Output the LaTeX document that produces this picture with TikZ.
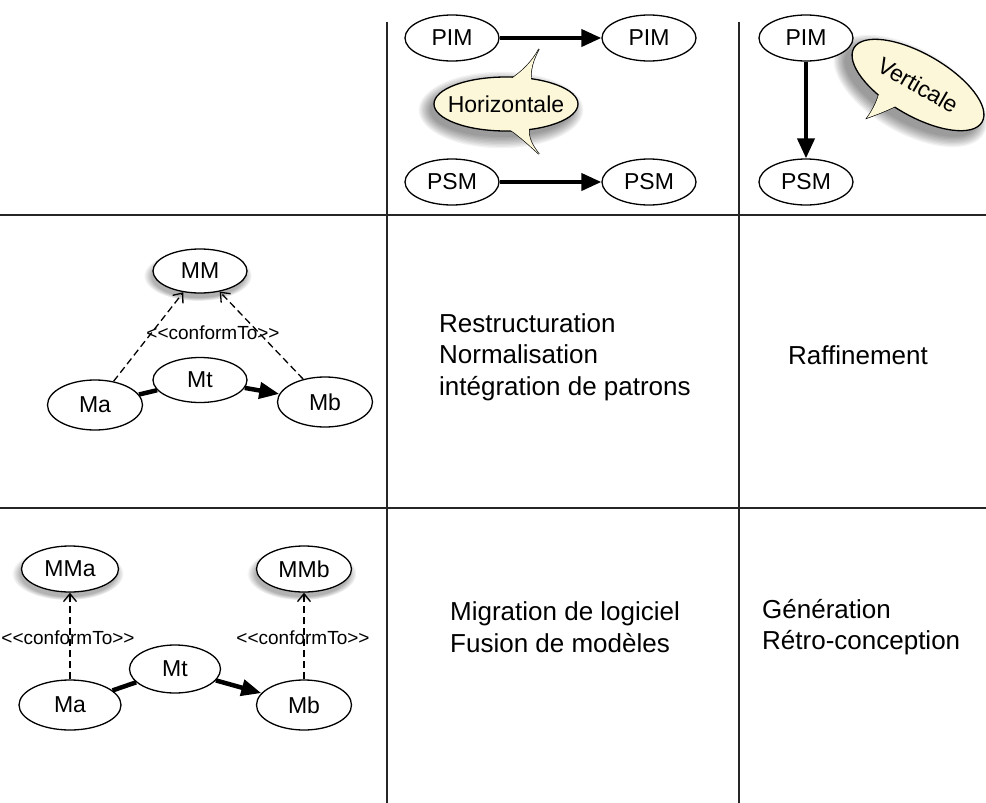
\documentclass[tikz,border=0pt]{standalone}
\usepackage{fontspec}
\setmainfont{Liberation Sans}
\usetikzlibrary{arrows.meta,shadows,fadings,shapes.geometric}
\definecolor{callfill}{RGB}{252,247,216}
\begin{document}
\begin{tikzpicture}[x=1pt,y=-1pt,
 ell/.style={draw, ellipse, line width=1.3pt, fill=white, inner sep=0pt, minimum width=94pt, minimum height=46pt, font=\fontsize{23}{25}\selectfont},
 shad/.style={circular drop shadow={shadow xshift=-2pt, shadow yshift=-4pt, shadow scale=1.15, opacity=.6}},
 gridline/.style={line width=1.6pt, black!85},
 bigarrow/.style={line width=4pt, -{Triangle[length=20pt,width=17pt]}},
 mtline/.style={line width=4.5pt},
 mtarrow/.style={line width=4.5pt, -{Triangle[length=20pt,width=16pt]}},
 conf/.style={line width=1.3pt, dash pattern=on 7pt off 4pt, -{Straight Barb[length=8pt,width=13pt,line width=1.3pt]}},
 lbl/.style={font=\fontsize{19}{21}\selectfont, inner sep=0pt},
 body/.style={font=\fontsize{26}{31.5}\selectfont, align=left, inner sep=0pt},
 callout/.style={fill=callfill, draw, line width=1.3pt},
 tailfill/.style={fill=callfill}
]
\fill[white] (0,0) rectangle (986,803);
\useasboundingbox (0,0) rectangle (986,803);

% grid
\draw[gridline] (0,215) -- (986,215);
\draw[gridline] (0,508) -- (986,508);
\draw[gridline] (387,22) -- (387,803);
\draw[gridline] (739,22) -- (739,803);

% ---------- Horizontale callout ----------
\foreach \k in {0,...,8}
  \fill[black, opacity=0.05] (501,110) ellipse [x radius={71+\k*1.4}, y radius={27+\k*1.4}];
\draw[callout] (508,81) .. controls (522,72) and (532,62) .. (539,49) .. controls (533,60) and (530,70) .. (531,82) -- cycle;
\draw[callout] (506,127) .. controls (520,136) and (530,146) .. (539,154) .. controls (532,145) and (528,138) .. (529,127) -- cycle;
\draw[callout] (506,104) ellipse [x radius=72, y radius=27];
\fill[tailfill] (508,81) .. controls (522,72) and (532,62) .. (539,49) .. controls (533,60) and (530,70) .. (531,82) -- cycle;
\fill[tailfill] (506,127) .. controls (520,136) and (530,146) .. (539,154) .. controls (532,145) and (528,138) .. (529,127) -- cycle;
\node[font=\fontsize{23}{25}\selectfont] (hor) at (506,104) {Horizontale};

% ---------- Verticale callout ----------
\begin{scope}[shift={(915,89)}, rotate=-30]
  \foreach \k in {0,...,8}
    \fill[black, opacity=0.05] (-3,4) ellipse [x radius={74+\k*1.4}, y radius={31+\k*1.4}];
\end{scope}
\draw[callout] (879,94) .. controls (876,104) and (872,111) .. (867,118) .. controls (878,114) and (888,110) .. (896,106) -- cycle;
\begin{scope}[shift={(918,85)}, rotate=-30]
  \draw[callout] (0,0) ellipse [x radius=74, y radius=31];
\end{scope}
\fill[tailfill] (879,94) .. controls (876,104) and (872,111) .. (867,118) .. controls (878,114) and (888,110) .. (896,106) -- cycle;
\node[font=\fontsize{23}{25}\selectfont, rotate=-30, inner sep=0pt] (ver) at (918,85) {Verticale};

% ---------- top cells ----------
\node[ell] (pim1) at (452,38) {PIM};
\node[ell] (pim2) at (649,38) {PIM};
\node[ell] (psm1) at (452,182) {PSM};
\node[ell] (psm2) at (649,182) {PSM};
\draw[bigarrow] (pim1) -- (pim2);
\draw[bigarrow] (psm1) -- (psm2);

\node[ell] (pim3) at (806,38) {PIM};
\node[ell] (psm3) at (806,182) {PSM};
\draw[bigarrow] (pim3) -- (psm3);

% ---------- middle-left ----------
\node[ell, shad, minimum height=44pt] (mm) at (200,271) {MM};
\node[ell, minimum width=95pt, minimum height=50pt] (ma1) at (95,405) {Ma};
\node[ell, minimum width=95pt, minimum height=50pt] (mb1) at (325,402) {Mb};
\node[ell, minimum height=45pt] (mt1) at (200,380) {Mt};
\draw[conf] (ma1) -- (mm);
\draw[conf] (mb1) -- (mm);
\node[lbl] (c1) at (213,333) {{<}{<}conformTo{>}{>}};
\draw[mtline] (ma1) -- (mt1);
\draw[mtarrow] (mt1) -- (mb1);

% ---------- bottom-left ----------
\node[ell, shad, minimum width=97pt] (mma) at (70,569) {MMa};
\node[ell, shad, minimum width=95pt] (mmb) at (304,569) {MMb};
\node[ell, minimum width=102pt, minimum height=50pt] (ma2) at (70,705) {Ma};
\node[ell, minimum width=95pt, minimum height=50pt] (mb2) at (304,705) {Mb};
\node[ell, minimum width=91pt, minimum height=48pt] (mt2) at (175,669) {Mt};
\draw[conf] (ma2) -- (mma);
\draw[conf] (mb2) -- (mmb);
\node[lbl] (c2) at (68,638) {{<}{<}conformTo{>}{>}};
\node[lbl] (c3) at (303,638) {{<}{<}conformTo{>}{>}};
\draw[mtline] (ma2) -- (mt2);
\draw[mtarrow] (mt2) -- (mb2);

% ---------- texts ----------
\node[body, anchor=west] (t1) at (439,357) {Restructuration\\Normalisation\\intégration de patrons};
\node[body] (t2) at (858,355) {Raffinement};
\node[body, anchor=west] (t3) at (450,627) {Migration de logiciel\\Fusion de modèles};
\node[body, anchor=west] (t4) at (762,627) {Génération\\Rétro-conception};
\end{tikzpicture}
\end{document}
